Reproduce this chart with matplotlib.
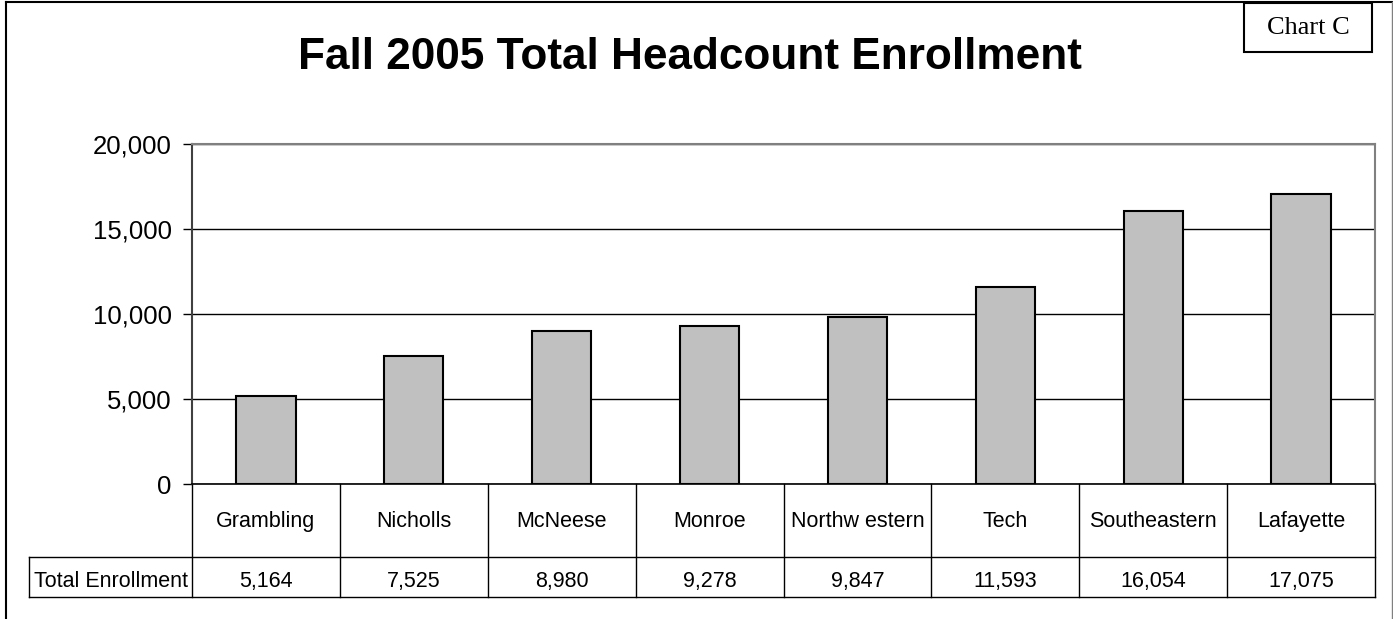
import matplotlib
matplotlib.use("Agg")
import matplotlib.pyplot as plt
from matplotlib.lines import Line2D
from matplotlib.patches import Rectangle

# ---------------------------------------------------------------------------
# Data
# ---------------------------------------------------------------------------
schools = ["Grambling", "Nicholls", "McNeese", "Monroe", "Northw estern",
           "Tech", "Southeastern", "Lafayette"]
enrollment = [5164, 7525, 8980, 9278, 9847, 11593, 16054, 17075]
y_ticks = [0, 5000, 10000, 15000, 20000]
row_label = "Total Enrollment"
title = "Fall 2005 Total Headcount Enrollment"

W, H = 1393, 619
plt.rcParams["font.family"] = ["Liberation Sans", "DejaVu Sans"]

fig = plt.figure(figsize=(W / 100, H / 100), dpi=100)


def fx(px):
    return px / W


def fy(py):
    return 1 - py / H


# plot area in pixel terms
left, right, top, bottom = 192, 1375, 144, 484
ph = bottom - top
ax = fig.add_axes([fx(left), fy(bottom), fx(right - left), ph / H])

x = list(range(len(schools)))
ax.bar(x, enrollment, width=0.4, color="#c0c0c0", edgecolor="black",
       linewidth=1.5, zorder=3)
ax.set_xlim(-0.5, len(schools) - 0.5)
ax.set_ylim(0, 20000)
ax.set_yticks(y_ticks)
ax.set_yticklabels([f"{v:,}" for v in y_ticks], fontsize=18.5)
ax.set_xticks([])
ax.tick_params(axis="y", direction="out", length=6.5, width=1, pad=8,
               colors="black")
ax.yaxis.grid(True, color="black", linewidth=1, zorder=0)
for s in ("top", "right"):
    ax.spines[s].set_color("#808080")
    ax.spines[s].set_linewidth(1.5)
ax.spines["left"].set_color("#404040")
ax.spines["left"].set_linewidth(1.5)
ax.spines["bottom"].set_color("black")
ax.spines["bottom"].set_linewidth(1.2)

# ---------------------------------------------------------------------------
# Data table below the axes
# ---------------------------------------------------------------------------
def ay(py):
    return -(py - bottom) / ph


r1, r2 = ay(557), ay(597)
col_w = (right - left) / len(schools)
lab_left = -0.5 - (left - 29) / col_w
tr = ax.get_xaxis_transform()
lkw = dict(transform=tr, color="black", linewidth=1, clip_on=False)

for i in range(len(schools) + 1):
    xb = i - 0.5
    ax.add_line(Line2D([xb, xb], [0, r2], **lkw))
ax.add_line(Line2D([lab_left, lab_left], [r1, r2], **lkw))
ax.add_line(Line2D([lab_left, len(schools) - 0.5], [r1, r1], **lkw))
ax.add_line(Line2D([lab_left, len(schools) - 0.5], [r2, r2], **lkw))

tkw = dict(transform=tr, ha="center", va="baseline", fontsize=15.5,
           clip_on=False)
for i, (name, val) in enumerate(zip(schools, enrollment)):
    ax.text(i, ay(527), name, **tkw)
    ax.text(i, ay(587), f"{val:,}", **tkw)
ax.text((lab_left - 0.5) / 2, ay(587), row_label, **tkw)

# ---------------------------------------------------------------------------
# Title, outer frame and "Chart C" box
# ---------------------------------------------------------------------------
fig.text(fx(690), fy(69), title, ha="center", va="baseline", fontsize=31.8,
         fontweight="bold")

fig.add_artist(Line2D([fx(6), fx(1393)], [fy(2), fy(2)], color="black",
                      linewidth=1.5))
fig.add_artist(Line2D([fx(6), fx(6)], [fy(2), fy(619)], color="black",
                      linewidth=1.5))
fig.add_artist(Line2D([fx(1392), fx(1392)], [fy(2), fy(619)], color="#808080",
                      linewidth=1))

fig.add_artist(Rectangle((fx(1244), fy(52)), fx(1372 - 1244), (52 - 3) / H,
                         facecolor="white", edgecolor="black", linewidth=1.5))
fig.text(fx(1308), fy(28), "Chart C", ha="center", va="center", fontsize=19,
         family=["Liberation Serif", "DejaVu Serif"])

fig.savefig("out.png", dpi=100)
